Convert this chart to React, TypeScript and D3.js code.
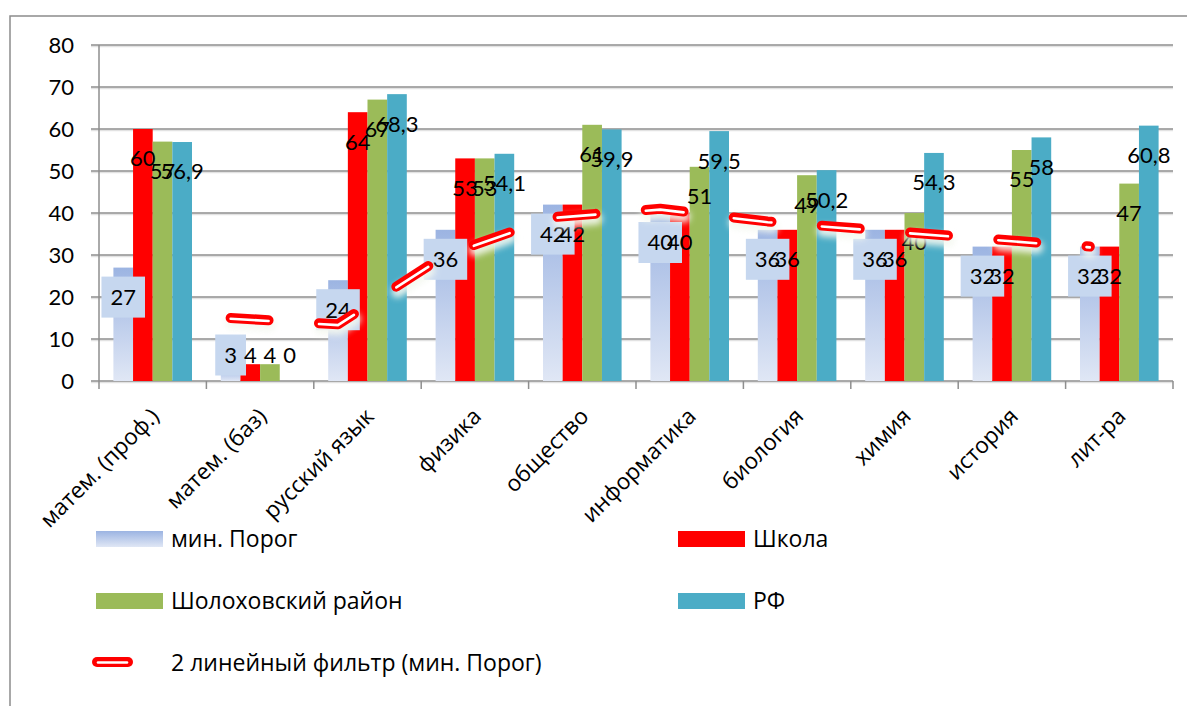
import React, { useEffect, useRef } from 'react';
import * as d3 from 'd3';

const categories = [
  'матем. (проф.)',
  'матем. (баз)',
  'русский язык',
  'физика',
  'общество',
  'информатика',
  'биология',
  'химия',
  'история',
  'лит-ра',
];

const minPorog = [27, 3, 24, 36, 42, 40, 36, 36, 32, 32];
const school = [60, 4, 64, 53, 42, 40, 36, 36, 32, 32];
const district = [57, 4, 67, 53, 61, 51, 49, 40, 55, 47];
const russia = [56.9, 0, 68.3, 54.1, 59.9, 59.5, 50.2, 54.3, 58, 60.8];

// 2-period moving average of "мин. Порог" (no value for the first category)
const trendMinPorog = [null, 15, 13.5, 30, 39, 41, 38, 36, 34, 32];

const yTicks = [0, 10, 20, 30, 40, 50, 60, 70, 80];

const seriesKeys = ['min', 'school', 'district', 'russia'];
const seriesNames = ['мин. Порог', 'Школа', 'Шолоховский район', 'РФ'];
const seriesValues = [minPorog, school, district, russia];
const trendName = '2 линейный фильтр (мин. Порог)';

const NUM_FONT = "Lato, 'Open Sans', 'DejaVu Sans', sans-serif";
const TEXT_FONT = "'Open Sans', 'DejaVu Sans', sans-serif";

function Chart() {
  const svgRef = useRef<SVGSVGElement>(null);

  useEffect(() => {
    const svg = d3.select(svgRef.current);
    svg.selectAll('*').remove();

    const width = 1187;
    const height = 706;
    const plot = { left: 99, right: 1173, top: 45, bottom: 381 };
    const colors = ['url(#minGrad)', '#ff0000', '#9bbb59', '#4bacc6'];

    const x0 = d3.scaleBand().domain(categories).range([plot.left, plot.right]);
    const x1 = d3
      .scaleBand()
      .domain(seriesKeys)
      .range([0, x0.bandwidth()])
      .paddingInner(0)
      .paddingOuter(0.733);
    const y = d3.scaleLinear().domain([0, 80]).range([plot.bottom, plot.top]);

    const defs = svg.append('defs');
    const grad = defs
      .append('linearGradient')
      .attr('id', 'minGrad')
      .attr('x1', 0)
      .attr('y1', 0)
      .attr('x2', 0)
      .attr('y2', 1);
    grad.append('stop').attr('offset', '0%').attr('stop-color', '#9cb4e2');
    grad.append('stop').attr('offset', '100%').attr('stop-color', '#e0e7f5');

    const glow = defs
      .append('filter')
      .attr('id', 'glow')
      .attr('x', '-20%')
      .attr('y', '-50%')
      .attr('width', '140%')
      .attr('height', '200%');
    glow.append('feGaussianBlur').attr('stdDeviation', 3);

    svg.attr('width', width).attr('height', height);

    // outer chart frame
    svg.append('rect')
      .attr('x', 10)
      .attr('y', 16)
      .attr('width', width + 20)
      .attr('height', height + 20)
      .attr('fill', '#fff')
      .attr('stroke', '#8c8c8c')
      .attr('stroke-width', 1.5);

    // gridlines
    const grid = svg.append('g');
    yTicks.forEach((t) => {
      grid.append('line')
        .attr('x1', plot.left - 8)
        .attr('x2', plot.right)
        .attr('y1', y(t) + 1.5)
        .attr('y2', y(t) + 1.5)
        .attr('stroke', '#e2e2e2')
        .attr('stroke-width', 1.5);
      grid.append('line')
        .attr('x1', plot.left - 8)
        .attr('x2', plot.right)
        .attr('y1', y(t))
        .attr('y2', y(t))
        .attr('stroke', '#8e8e8e')
        .attr('stroke-width', 1.4);
    });

    // y axis
    svg.append('line')
      .attr('x1', plot.left)
      .attr('x2', plot.left)
      .attr('y1', plot.top)
      .attr('y2', plot.bottom)
      .attr('stroke', '#8e8e8e')
      .attr('stroke-width', 1.5);
    svg.append('g')
      .selectAll('text')
      .data(yTicks)
      .enter()
      .append('text')
      .attr('x', 74)
      .attr('y', (d) => y(d))
      .attr('dy', '0.36em')
      .attr('text-anchor', 'end')
      .style('font-family', NUM_FONT)
      .style('font-size', '22px')
      .attr('fill', '#000')
      .text((d) => d);

    // x axis ticks at category boundaries
    const bounds = categories.map((c) => x0(c)!).concat([plot.right]);
    svg.append('g')
      .selectAll('line')
      .data(bounds)
      .enter()
      .append('line')
      .attr('x1', (d) => d)
      .attr('x2', (d) => d)
      .attr('y1', plot.bottom)
      .attr('y2', plot.bottom + 8)
      .attr('stroke', '#8e8e8e')
      .attr('stroke-width', 1.5);

    // bars
    const bars = svg.append('g');
    seriesKeys.forEach((key, si) => {
      bars.selectAll(`.bar-${key}`)
        .data(seriesValues[si])
        .enter()
        .append('rect')
        .attr('class', `bar-${key}`)
        .attr('x', (_, i) => x0(categories[i])! + x1(key)!)
        .attr('width', x1.bandwidth())
        .attr('y', (d) => y(d))
        .attr('height', (d) => y(0) - y(d))
        .attr('fill', colors[si]);
    });

    // data labels
    const fmt = (v: number) => String(v).replace('.', ',');
    const labelY = (v: number) => Math.min(y(v) + 29.5, y(0) - 26);
    const labels = svg.append('g');
    seriesKeys.forEach((key, si) => {
      seriesValues[si].forEach((v, i) => {
        const cx = x0(categories[i])! + x1(key)! + x1.bandwidth() / 2;
        const cy = labelY(v);
        const g = labels.append('g');
        const box = g.append('rect');
        const txt = g.append('text')
          .attr('x', cx)
          .attr('y', cy)
          .attr('dy', '0.36em')
          .attr('text-anchor', 'middle')
          .style('font-family', NUM_FONT)
          .style('font-size', '22px')
          .attr('fill', '#000')
          .text(fmt(v));
        if (key === 'min') {
          const w = (txt.node() as SVGTextElement).getComputedTextLength() + 18;
          box.attr('x', cx - w / 2)
            .attr('y', cy - 20.5)
            .attr('width', w)
            .attr('height', 41)
            .attr('fill', '#c6d7ef');
        } else {
          box.remove();
        }
      });
    });

    // moving-average trendline
    const trendPts = trendMinPorog
      .map((v, i) => ({ v, x: x0(categories[i])! + x1('min')! + x1.bandwidth() / 2 }))
      .filter((d) => d.v !== null) as { v: number; x: number }[];
    const line = d3
      .line<{ v: number; x: number }>()
      .x((d) => d.x)
      .y((d) => y(d.v));
    const dash = '38 50.5';
    const trend = svg.append('g');
    trend.append('path')
      .datum(trendPts)
      .attr('d', line)
      .attr('fill', 'none')
      .attr('stroke', '#f4f8f0')
      .attr('stroke-width', 12)
      .attr('stroke-dasharray', dash)
      .attr('stroke-linecap', 'round')
      .attr('opacity', 0.9)
      .attr('transform', 'translate(1,5)')
      .attr('filter', 'url(#glow)');
    trend.append('path')
      .datum(trendPts)
      .attr('d', line)
      .attr('fill', 'none')
      .attr('stroke', '#ff0000')
      .attr('stroke-width', 10)
      .attr('stroke-dasharray', dash)
      .attr('stroke-linecap', 'round')
      .attr('stroke-linejoin', 'round');
    trend.append('path')
      .datum(trendPts)
      .attr('d', line)
      .attr('fill', 'none')
      .attr('stroke', '#ffffff')
      .attr('stroke-width', 2.6)
      .attr('stroke-dasharray', dash)
      .attr('stroke-linecap', 'round')
      .attr('stroke-linejoin', 'round')
      .attr('transform', 'translate(0,0.8)');

    // category labels
    svg.append('g')
      .selectAll('text')
      .data(categories)
      .enter()
      .append('text')
      .attr('transform', (d) => `translate(${x0(d)! + x0.bandwidth() / 2 + 2},${plot.bottom + 31}) rotate(-45)`)
      .attr('text-anchor', 'end')
      .attr('dy', '0.36em')
      .style('font-family', TEXT_FONT)
      .style('font-size', '22.5px')
      .attr('fill', '#000')
      .text((d) => d);

    // legend
    const legend = svg.append('g').style('font-family', TEXT_FONT).style('font-size', '23px');
    const legendPos = [
      { x: 96, y: 531 },
      { x: 678, y: 531 },
      { x: 96, y: 593 },
      { x: 678, y: 593 },
    ];
    seriesNames.forEach((name, si) => {
      const p = legendPos[si];
      legend.append('rect')
        .attr('x', p.x)
        .attr('y', p.y)
        .attr('width', 67)
        .attr('height', 16)
        .attr('fill', colors[si]);
      legend.append('text')
        .attr('x', p.x + 75)
        .attr('y', p.y + 8)
        .attr('dy', '0.36em')
        .attr('fill', '#000')
        .text(name);
    });
    legend.append('line')
      .attr('x1', 97)
      .attr('x2', 128)
      .attr('y1', 662)
      .attr('y2', 662)
      .attr('stroke', '#ff0000')
      .attr('stroke-width', 10)
      .attr('stroke-linecap', 'round');
    legend.append('line')
      .attr('x1', 98)
      .attr('x2', 127)
      .attr('y1', 662.5)
      .attr('y2', 662.5)
      .attr('stroke', '#ffffff')
      .attr('stroke-width', 2.6)
      .attr('stroke-linecap', 'round');
    legend.append('text')
      .attr('x', 171)
      .attr('y', 663)
      .attr('dy', '0.36em')
      .attr('fill', '#000')
      .text(trendName);
  }, []);

  return <svg ref={svgRef} width={1187} height={706} style={{ position: 'absolute', left: 0, top: 0, display: 'block' }} />;
}

export default function App() {
  return <Chart />;
}
